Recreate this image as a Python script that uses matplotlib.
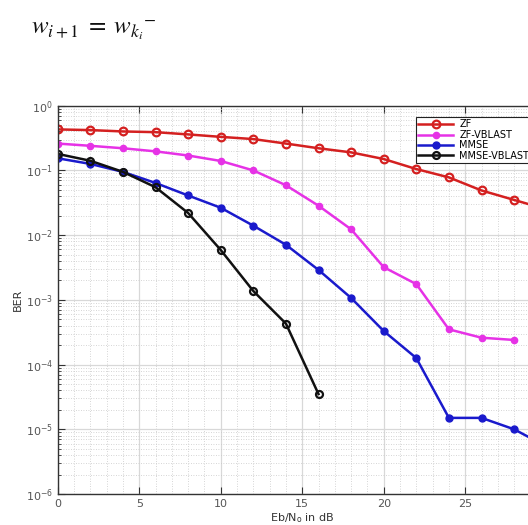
import matplotlib
matplotlib.use("Agg")
import matplotlib.pyplot as plt
import numpy as np

snr_zf = [0, 2, 4, 6, 8, 10, 12, 14, 16, 18, 20, 22, 24, 26, 28, 30]
ber_zf = [0.43, 0.42, 0.40, 0.39, 0.36, 0.33, 0.305, 0.26, 0.22, 0.19, 0.15,
          0.105, 0.078, 0.049, 0.035, 0.025]

snr_zfv = [0, 2, 4, 6, 8, 10, 12, 14, 16, 18, 20, 22, 24, 26, 28]
ber_zfv = [0.26, 0.24, 0.22, 0.197, 0.17, 0.14, 0.10, 0.059, 0.0285, 0.0123,
           0.0032, 0.00175, 0.00035, 0.00026, 0.00024]

snr_mmse = [0, 2, 4, 6, 8, 10, 12, 14, 16, 18, 20, 22, 24, 26, 28, 30]
ber_mmse = [0.154, 0.126, 0.095, 0.064, 0.041, 0.0265, 0.014, 0.0071, 0.0029,
            0.00107, 0.00033, 0.000126, 1.5e-5, 1.5e-5, 1.0e-5, 5.4e-6]

snr_mmsev = [0, 2, 4, 6, 8, 10, 12, 14, 16]
ber_mmsev = [0.18, 0.141, 0.095, 0.055, 0.022, 0.0059, 0.00137, 0.00043, 3.5e-5]

labels = ["ZF", "ZF-VBLAST", "MMSE", "MMSE-VBLAST"]
xticks = [0, 5, 10, 15, 20, 25]

W, H = 528, 525
fig = plt.figure(figsize=(W / 100, H / 100), dpi=100)
fig.patch.set_facecolor("white")

# formula text at top
fig.text(31 / W, 1 - 30 / H, r"$w_{i+1}\;=\;w_{k_i}{}^{-}$", fontsize=18,
         va="center", ha="left", color="#111111", math_fontfamily="stix")

left = 57.7 / W
bottom = 31 / H
width = 30 * 16.3 / W
height = (494 - 105.7) / H
ax = fig.add_axes([left, bottom, width, height])

ax.semilogy(snr_zf, ber_zf, color="#d42020", lw=1.8, marker="o", ms=5.5,
            mfc="none", mec="#d42020", mew=1.6, label=labels[0])
ax.semilogy(snr_zfv, ber_zfv, color="#e632e6", lw=1.8, marker="o", ms=4.5,
            mfc="#e632e6", mec="#e632e6", label=labels[1])
ax.semilogy(snr_mmse, ber_mmse, color="#1a1acc", lw=1.8, marker="o", ms=5,
            mfc="#1a1acc", mec="#1a1acc", label=labels[2])
ax.semilogy(snr_mmsev, ber_mmsev, color="#111111", lw=1.8, marker="o", ms=5,
            mfc="none", mec="#111111", mew=1.6, label=labels[3])

ax.set_xlim(0, 30)
ax.set_ylim(1e-6, 1)
ax.set_xticks(xticks)
ax.set_xticklabels([str(t) for t in xticks])
ax.set_yticks([10.0 ** k for k in range(-6, 1)])
ax.yaxis.set_minor_locator(matplotlib.ticker.LogLocator(base=10, subs=np.arange(2, 10), numticks=20))
ax.yaxis.set_minor_formatter(matplotlib.ticker.NullFormatter())

ax.grid(True, which="major", color="#d8d8d8", lw=0.9, ls="-")
ax.grid(True, which="minor", color="#c8c8c8", lw=0.6, ls=(0, (1, 2)))
ax.xaxis.set_minor_locator(matplotlib.ticker.MultipleLocator(1))
ax.grid(True, which="minor", axis="x", color="#c8c8c8", lw=0.6, ls=(0, (1, 2)))
ax.set_axisbelow(True)

ax.tick_params(which="both", direction="in", top=True, right=True,
               labelsize=8, colors="#333333", labelcolor="#555555")
ax.tick_params(which="major", length=5)
ax.tick_params(which="minor", length=2.5)
ax.tick_params(axis="x", which="minor", length=0)
for s in ax.spines.values():
    s.set_color("#333333")
    s.set_linewidth(1.0)

ax.set_ylabel("BER", fontsize=8, color="#333333", labelpad=2)
ax.set_xlabel(r"Eb/N$_\mathregular{o}$ in dB", fontsize=8, color="#333333", labelpad=2)

leg = ax.legend(loc="upper left", bbox_to_anchor=(416 / W, 1 - 117 / H),
                bbox_transform=fig.transFigure, fontsize=7, frameon=True,
                fancybox=False, edgecolor="#222222", framealpha=1,
                labelspacing=0.05, handlelength=3.6, handletextpad=0.6,
                borderpad=0.25, borderaxespad=0)
leg.get_frame().set_linewidth(0.8)

fig.savefig("out.png", dpi=100, facecolor="white")
